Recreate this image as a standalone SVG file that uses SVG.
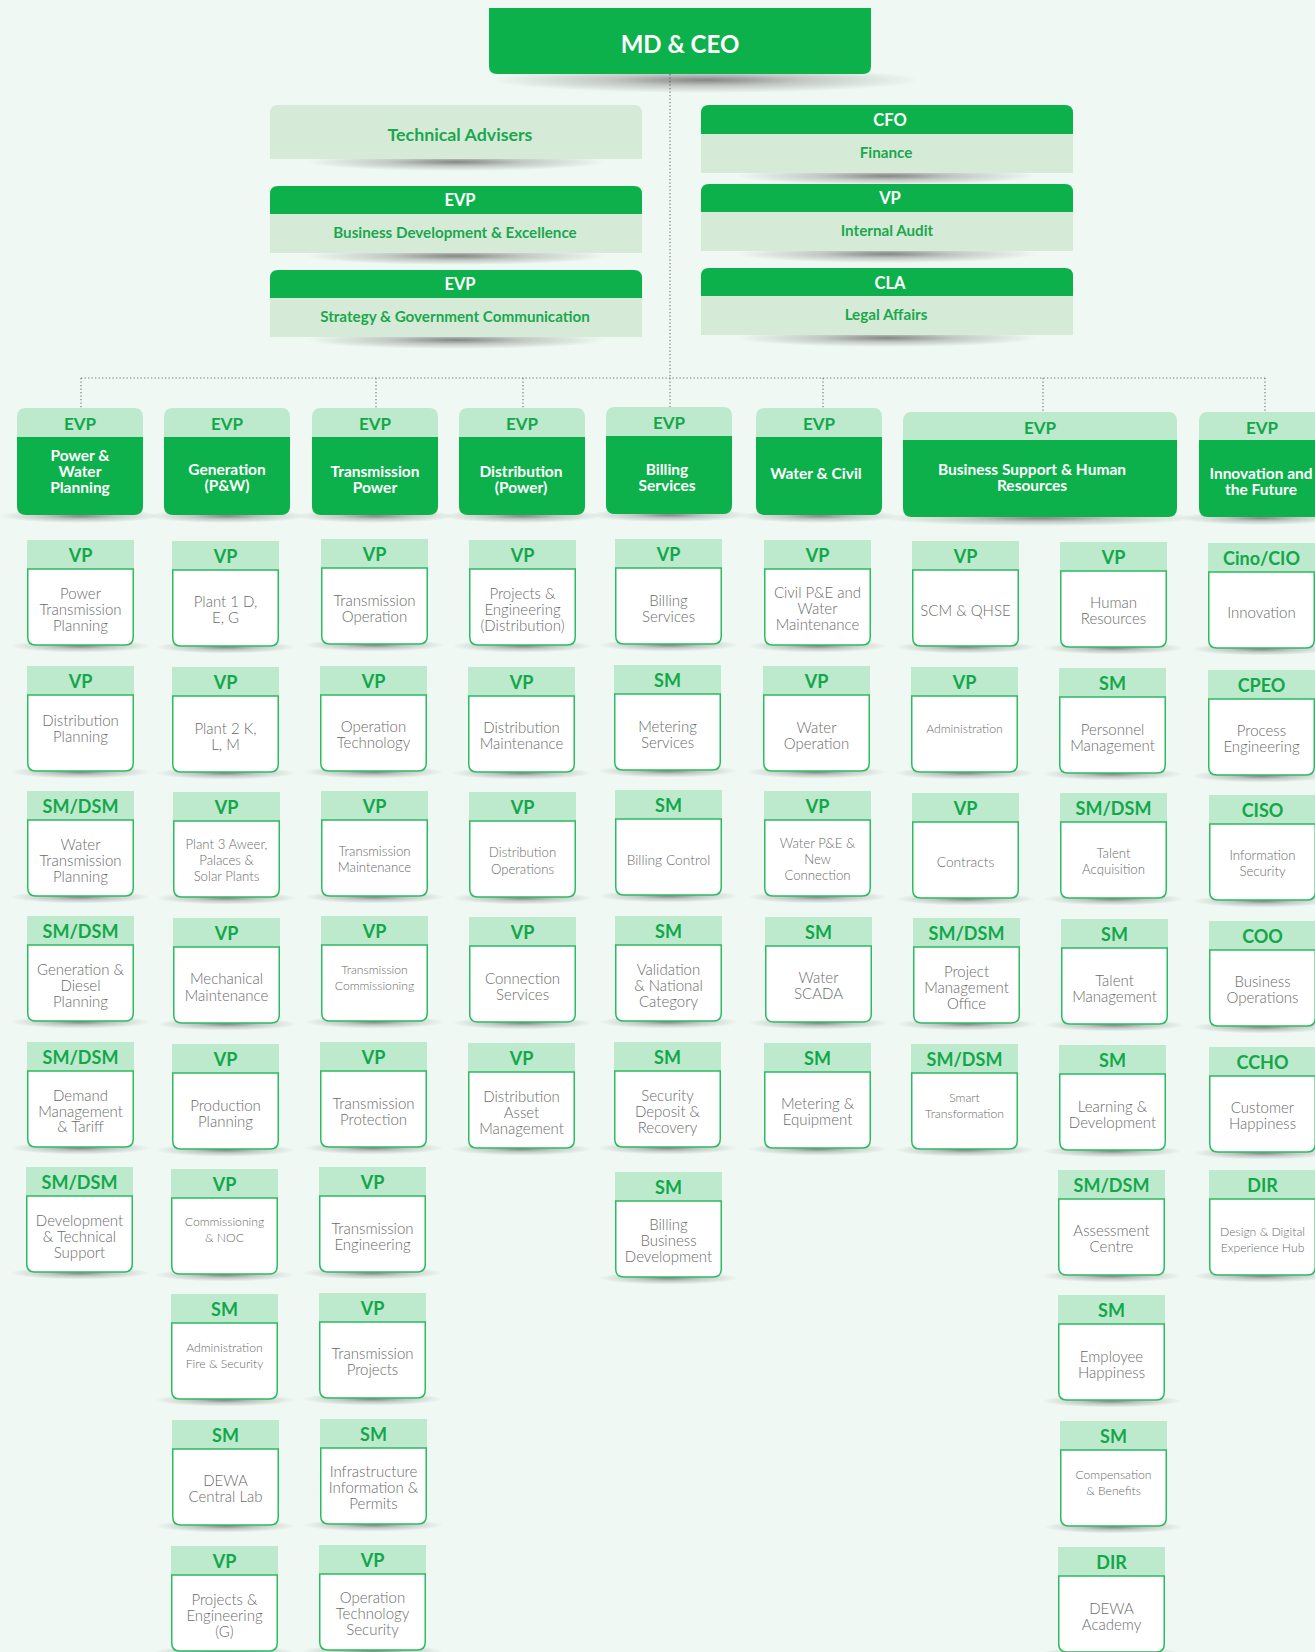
<svg xmlns="http://www.w3.org/2000/svg" width="1315" height="1652" viewBox="0 0 1315 1652">
<style>
.bg{fill:#eff8f3}
.dg{fill:#0db14b}
.lh{fill:#bde9cd}
.pg{fill:#d6ebd7}
.cb{fill:#ffffff;stroke:#2dbb62;stroke-width:1.5}
text{font-family:Lato,"Noto Sans","Liberation Sans",sans-serif;text-anchor:middle;dominant-baseline:central}
.h{font-size:18px;font-weight:700;fill:#12a84a}
.eh{font-size:17px;font-weight:700;fill:#12a84a}
.w{font-size:15.5px;font-weight:700;fill:#ffffff}
.tw{font-size:16.5px;font-weight:700;fill:#ffffff}
.tg{font-size:15.2px;font-weight:700;fill:#1aa84e}
.b{font-size:15px;font-weight:300;fill:#6b6b6b}
.m{font-size:13.2px;font-weight:300;fill:#6b6b6b}
.s{font-size:12.2px;font-weight:300;fill:#6b6b6b}
.c{font-size:13.8px;font-weight:300;fill:#6b6b6b}
.conn{fill:none;stroke:#7a7a7a;stroke-width:1.2;stroke-dasharray:1.3 2.2}
</style>
<defs>
<radialGradient id="sh" cx="50%" cy="50%" r="50%">
<stop offset="0" stop-color="#3c3c3c" stop-opacity="0.6"/>
<stop offset="0.45" stop-color="#3c3c3c" stop-opacity="0.25"/>
<stop offset="1" stop-color="#3c3c3c" stop-opacity="0"/>
</radialGradient>
<g id="cA">
<ellipse cx="53.5" cy="106" rx="70" ry="6.5" fill="url(#sh)"/>
<rect width="107" height="29" class="lh"/>
<path class="cb" d="M0.75,29 H106.25 V97 Q106.25,105 98.25,105 H8.75 Q0.75,105 0.75,97 Z"/>
</g>
<g id="ev">
<ellipse cx="63" cy="108" rx="80" ry="7" fill="url(#sh)"/>
<path class="dg" d="M0,29 H126 V98 Q126,107 117,107 H9 Q0,107 0,98 Z"/>
<path class="lh" d="M0,9 Q0,0 9,0 H117 Q126,0 126,9 V29 H0 Z"/>
</g>
</defs>
<rect class="bg" x="0" y="0" width="1315" height="1652"/>

<g id="connectors">
<path class="conn" d="M670,74 V378"/>
<path class="conn" d="M81,378 H1265"/>
<path class="conn" d="M81,378 V408 M376,378 V408 M523,378 V408 M670,378 V407 M823,378 V408 M1043,378 V412 M1265,378 V412"/>
</g>

<!-- top level -->
<g id="md-ceo">
<ellipse cx="705" cy="80" rx="215" ry="13" fill="url(#sh)"/>
<path class="dg" d="M489,8 H871 V66 Q871,74 863,74 H497 Q489,74 489,66 Z"/>
<text x="680" y="43" style="font-size:24px;font-weight:700;fill:#fff">MD &amp; CEO</text>
</g>
<g id="tech-advisers">
<ellipse cx="456" cy="162" rx="150" ry="9" fill="url(#sh)"/>
<path class="pg" d="M270,113 Q270,105 278,105 H634 Q642,105 642,113 V159 H270 Z"/>
<text x="460" y="134" style="font-size:17.8px;font-weight:700;fill:#1aa84e">Technical Advisers</text>
</g>
<g id="cfo">
<ellipse cx="887" cy="176" rx="150" ry="9" fill="url(#sh)"/>
<rect class="pg" x="701" y="130" width="372" height="43"/>
<path class="dg" d="M701,113 Q701,105 709,105 H1065 Q1073,105 1073,113 V134 H701 Z"/>
<text class="tw" x="890" y="120">CFO</text>
<text class="tg" x="886" y="152">Finance</text>
</g>
<g id="evp-bde">
<ellipse cx="456" cy="256" rx="150" ry="9" fill="url(#sh)"/>
<rect class="pg" x="270" y="210" width="372" height="43"/>
<path class="dg" d="M270,194 Q270,186 278,186 H634 Q642,186 642,194 V214 H270 Z"/>
<text class="tw" x="460" y="200">EVP</text>
<text class="tg" x="455" y="232">Business Development &amp; Excellence</text>
</g>
<g id="vp-audit">
<ellipse cx="887" cy="254" rx="150" ry="9" fill="url(#sh)"/>
<rect class="pg" x="701" y="208" width="372" height="43"/>
<path class="dg" d="M701,192 Q701,184 709,184 H1065 Q1073,184 1073,192 V212 H701 Z"/>
<text class="tw" x="890" y="198">VP</text>
<text class="tg" x="887" y="230">Internal Audit</text>
</g>
<g id="evp-sgc">
<ellipse cx="456" cy="340" rx="150" ry="9" fill="url(#sh)"/>
<rect class="pg" x="270" y="294" width="372" height="43"/>
<path class="dg" d="M270,278 Q270,270 278,270 H634 Q642,270 642,278 V298 H270 Z"/>
<text class="tw" x="460" y="284">EVP</text>
<text class="tg" x="455" y="316">Strategy &amp; Government Communication</text>
</g>
<g id="cla">
<ellipse cx="887" cy="338" rx="150" ry="9" fill="url(#sh)"/>
<rect class="pg" x="701" y="292" width="372" height="43"/>
<path class="dg" d="M701,276 Q701,268 709,268 H1065 Q1073,268 1073,276 V296 H701 Z"/>
<text class="tw" x="890" y="283">CLA</text>
<text class="tg" x="886" y="314">Legal Affairs</text>
</g>

<!-- EVP row -->
<g id="evp-pwp"><use href="#ev" x="17" y="408"/><text class="eh" x="80" y="423">EVP</text>
<text class="w" x="80" y="455">Power &amp;</text><text class="w" x="80" y="471">Water</text><text class="w" x="80" y="487">Planning</text></g>
<g id="evp-gen"><use href="#ev" x="164" y="408"/><text class="eh" x="227" y="423">EVP</text>
<text class="w" x="227" y="469">Generation</text><text class="w" x="227" y="485">(P&amp;W)</text></g>
<g id="evp-trans"><use href="#ev" x="312" y="408"/><text class="eh" x="375" y="423">EVP</text>
<text class="w" x="375" y="471">Transmission</text><text class="w" x="375" y="487">Power</text></g>
<g id="evp-dist"><use href="#ev" x="459" y="408"/><text class="eh" x="522" y="423">EVP</text>
<text class="w" x="521" y="471">Distribution</text><text class="w" x="521" y="487">(Power)</text></g>
<g id="evp-bill"><use href="#ev" x="606" y="407"/><text class="eh" x="669" y="422">EVP</text>
<text class="w" x="667" y="469">Billing</text><text class="w" x="667" y="485">Services</text></g>
<g id="evp-water"><use href="#ev" x="756" y="408"/><text class="eh" x="819" y="423">EVP</text>
<text class="w" x="816" y="473">Water &amp; Civil</text></g>
<g id="evp-bshr">
<ellipse cx="1040" cy="518" rx="160" ry="8" fill="url(#sh)"/>
<path class="dg" d="M903,440 H1177 V508 Q1177,517 1168,517 H912 Q903,517 903,508 Z"/>
<path class="lh" d="M903,421 Q903,412 912,412 H1168 Q1177,412 1177,421 V440 H903 Z"/>
<text class="eh" x="1040" y="427">EVP</text>
<text class="w" x="1032" y="469">Business Support &amp; Human</text><text class="w" x="1032" y="485">Resources</text></g>
<g id="evp-innov">
<ellipse cx="1261" cy="518" rx="80" ry="7" fill="url(#sh)"/>
<path class="dg" d="M1199,440 H1324 V508 Q1324,517 1315,517 H1208 Q1199,517 1199,508 Z"/>
<path class="lh" d="M1199,421 Q1199,412 1208,412 H1315 Q1324,412 1324,421 V440 H1199 Z"/>
<text class="eh" x="1262" y="427">EVP</text>
<text class="w" x="1261" y="473">Innovation and</text><text class="w" x="1261" y="489">the Future</text></g>

<!-- Column 1 -->
<g id="c1r1"><use href="#cA" x="27" y="540"/><text class="h" x="80.5" y="554.5">VP</text>
<text class="b" x="80.5" y="593">Power</text><text class="b" x="80.5" y="609">Transmission</text><text class="b" x="80.5" y="625">Planning</text></g>
<g id="c1r2"><use href="#cA" x="27" y="666"/><text class="h" x="80.5" y="680.5">VP</text>
<text class="b" x="80.5" y="720">Distribution</text><text class="b" x="80.5" y="736">Planning</text></g>
<g id="c1r3"><use href="#cA" x="27" y="791"/><text class="h" x="80.5" y="805.5">SM/DSM</text>
<text class="b" x="80.5" y="844">Water</text><text class="b" x="80.5" y="860">Transmission</text><text class="b" x="80.5" y="876">Planning</text></g>
<g id="c1r4"><use href="#cA" x="27" y="916"/><text class="h" x="80.5" y="930.5">SM/DSM</text>
<text class="b" x="80.5" y="969">Generation &amp;</text><text class="b" x="80.5" y="985">Diesel</text><text class="b" x="80.5" y="1001">Planning</text></g>
<g id="c1r5"><use href="#cA" x="27" y="1042"/><text class="h" x="80.5" y="1056.5">SM/DSM</text>
<text class="b" x="80.5" y="1095">Demand</text><text class="b" x="80.5" y="1111">Management</text><text class="b" x="80.5" y="1126">&amp; Tariff</text></g>
<g id="c1r6"><use href="#cA" x="26" y="1167"/><text class="h" x="79.5" y="1181.5">SM/DSM</text>
<text class="b" x="79.5" y="1220">Development</text><text class="b" x="79.5" y="1236">&amp; Technical</text><text class="b" x="79.5" y="1252">Support</text></g>

<!-- Column 2 -->
<g id="c2r1"><use href="#cA" x="172" y="541"/><text class="h" x="225.5" y="555.5">VP</text>
<text class="b" x="225.5" y="601">Plant 1 D,</text><text class="b" x="225.5" y="617">E, G</text></g>
<g id="c2r2"><use href="#cA" x="172" y="667"/><text class="h" x="225.5" y="681.5">VP</text>
<text class="b" x="225.5" y="728">Plant 2 K,</text><text class="b" x="225.5" y="744">L, M</text></g>
<g id="c2r3"><use href="#cA" x="173" y="792"/><text class="h" x="226.5" y="806.5">VP</text>
<text class="m" x="226.5" y="844">Plant 3 Aweer,</text><text class="m" x="226.5" y="860">Palaces &amp;</text><text class="m" x="226.5" y="876">Solar Plants</text></g>
<g id="c2r4"><use href="#cA" x="173" y="918"/><text class="h" x="226.5" y="932.5">VP</text>
<text class="b" x="226.5" y="978">Mechanical</text><text class="b" x="226.5" y="995">Maintenance</text></g>
<g id="c2r5"><use href="#cA" x="172" y="1044"/><text class="h" x="225.5" y="1058.5">VP</text>
<text class="b" x="225.5" y="1105">Production</text><text class="b" x="225.5" y="1121">Planning</text></g>
<g id="c2r6"><use href="#cA" x="171" y="1169"/><text class="h" x="224.5" y="1183.5">VP</text>
<text class="s" x="224.5" y="1221">Commissioning</text><text class="s" x="224.5" y="1237">&amp; NOC</text></g>
<g id="c2r7"><use href="#cA" x="171" y="1294"/><text class="h" x="224.5" y="1308.5">SM</text>
<text class="s" x="224.5" y="1347">Administration</text><text class="s" x="224.5" y="1363">Fire &amp; Security</text></g>
<g id="c2r8"><use href="#cA" x="172" y="1420"/><text class="h" x="225.5" y="1434.5">SM</text>
<text class="b" x="225.5" y="1480">DEWA</text><text class="b" x="225.5" y="1496">Central Lab</text></g>
<g id="c2r9"><use href="#cA" x="171" y="1546"/><text class="h" x="224.5" y="1560.5">VP</text>
<text class="b" x="224.5" y="1599">Projects &amp;</text><text class="b" x="224.5" y="1615">Engineering</text><text class="b" x="224.5" y="1631">(G)</text></g>

<!-- Column 3 -->
<g id="c3r1"><use href="#cA" x="321" y="539"/><text class="h" x="374.5" y="553.5">VP</text>
<text class="b" x="374.5" y="600">Transmission</text><text class="b" x="374.5" y="616">Operation</text></g>
<g id="c3r2"><use href="#cA" x="320" y="666"/><text class="h" x="373.5" y="680.5">VP</text>
<text class="b" x="373.5" y="726">Operation</text><text class="b" x="373.5" y="742">Technology</text></g>
<g id="c3r3"><use href="#cA" x="321" y="791"/><text class="h" x="374.5" y="805.5">VP</text>
<text class="m" x="374.5" y="851">Transmission</text><text class="m" x="374.5" y="867">Maintenance</text></g>
<g id="c3r4"><use href="#cA" x="321" y="916"/><text class="h" x="374.5" y="930.5">VP</text>
<text class="s" x="374.5" y="969">Transmission</text><text class="s" x="374.5" y="985">Commissioning</text></g>
<g id="c3r5"><use href="#cA" x="320" y="1042"/><text class="h" x="373.5" y="1056.5">VP</text>
<text class="b" x="373.5" y="1103">Transmission</text><text class="b" x="373.5" y="1119">Protection</text></g>
<g id="c3r6"><use href="#cA" x="319" y="1167"/><text class="h" x="372.5" y="1181.5">VP</text>
<text class="b" x="372.5" y="1228">Transmission</text><text class="b" x="372.5" y="1244">Engineering</text></g>
<g id="c3r7"><use href="#cA" x="319" y="1293"/><text class="h" x="372.5" y="1307.5">VP</text>
<text class="b" x="372.5" y="1353">Transmission</text><text class="b" x="372.5" y="1369">Projects</text></g>
<g id="c3r8"><use href="#cA" x="320" y="1419"/><text class="h" x="373.5" y="1433.5">SM</text>
<text class="b" x="373.5" y="1471">Infrastructure</text><text class="b" x="373.5" y="1487">Information &amp;</text><text class="b" x="373.5" y="1503">Permits</text></g>
<g id="c3r9"><use href="#cA" x="319" y="1545"/><text class="h" x="372.5" y="1559.5">VP</text>
<text class="b" x="372.5" y="1597">Operation</text><text class="b" x="372.5" y="1613">Technology</text><text class="b" x="372.5" y="1629">Security</text></g>

<!-- Column 4 -->
<g id="c4r1"><use href="#cA" x="469" y="540"/><text class="h" x="522.5" y="554.5">VP</text>
<text class="b" x="522.5" y="593">Projects &amp;</text><text class="b" x="522.5" y="609">Engineering</text><text class="b" x="522.5" y="625">(Distribution)</text></g>
<g id="c4r2"><use href="#cA" x="468" y="667"/><text class="h" x="521.5" y="681.5">VP</text>
<text class="b" x="521.5" y="727">Distribution</text><text class="b" x="521.5" y="743">Maintenance</text></g>
<g id="c4r3"><use href="#cA" x="469" y="792"/><text class="h" x="522.5" y="806.5">VP</text>
<text class="m" x="522.5" y="852">Distribution</text><text class="m" x="522.5" y="869">Operations</text></g>
<g id="c4r4"><use href="#cA" x="469" y="917"/><text class="h" x="522.5" y="931.5">VP</text>
<text class="b" x="522.5" y="978">Connection</text><text class="b" x="522.5" y="994">Services</text></g>
<g id="c4r5"><use href="#cA" x="468" y="1043"/><text class="h" x="521.5" y="1057.5">VP</text>
<text class="b" x="521.5" y="1096">Distribution</text><text class="b" x="521.5" y="1112">Asset</text><text class="b" x="521.5" y="1128">Management</text></g>

<!-- Column 5 -->
<g id="c5r1"><use href="#cA" x="615" y="539"/><text class="h" x="668.5" y="553.5">VP</text>
<text class="b" x="668.5" y="600">Billing</text><text class="b" x="668.5" y="616">Services</text></g>
<g id="c5r2"><use href="#cA" x="614" y="665"/><text class="h" x="667.5" y="679.5">SM</text>
<text class="b" x="667.5" y="726">Metering</text><text class="b" x="667.5" y="742">Services</text></g>
<g id="c5r3"><use href="#cA" x="615" y="790"/><text class="h" x="668.5" y="804.5">SM</text>
<text class="c" x="668.5" y="859">Billing Control</text></g>
<g id="c5r4"><use href="#cA" x="615" y="916"/><text class="h" x="668.5" y="930.5">SM</text>
<text class="b" x="668.5" y="969">Validation</text><text class="b" x="668.5" y="985">&amp; National</text><text class="b" x="668.5" y="1001">Category</text></g>
<g id="c5r5"><use href="#cA" x="614" y="1042"/><text class="h" x="667.5" y="1056.5">SM</text>
<text class="b" x="667.5" y="1095">Security</text><text class="b" x="667.5" y="1111">Deposit &amp;</text><text class="b" x="667.5" y="1127">Recovery</text></g>
<g id="c5r6"><use href="#cA" x="615" y="1172"/><text class="h" x="668.5" y="1186.5">SM</text>
<text class="b" x="668.5" y="1224">Billing</text><text class="b" x="668.5" y="1240">Business</text><text class="b" x="668.5" y="1256">Development</text></g>

<!-- Column 6 -->
<g id="c6r1"><use href="#cA" x="764" y="540"/><text class="h" x="817.5" y="554.5">VP</text>
<text class="b" x="817.5" y="592">Civil P&amp;E and</text><text class="b" x="817.5" y="608">Water</text><text class="b" x="817.5" y="624">Maintenance</text></g>
<g id="c6r2"><use href="#cA" x="763" y="666"/><text class="h" x="816.5" y="680.5">VP</text>
<text class="b" x="816.5" y="727">Water</text><text class="b" x="816.5" y="743">Operation</text></g>
<g id="c6r3"><use href="#cA" x="764" y="791"/><text class="h" x="817.5" y="805.5">VP</text>
<text class="m" x="817.5" y="843">Water P&amp;E &amp;</text><text class="m" x="817.5" y="859">New</text><text class="m" x="817.5" y="875">Connection</text></g>
<g id="c6r4"><use href="#cA" x="765" y="917"/><text class="h" x="818.5" y="931.5">SM</text>
<text class="b" x="818.5" y="977">Water</text><text class="b" x="818.5" y="993">SCADA</text></g>
<g id="c6r5"><use href="#cA" x="764" y="1043"/><text class="h" x="817.5" y="1057.5">SM</text>
<text class="b" x="817.5" y="1103">Metering &amp;</text><text class="b" x="817.5" y="1119">Equipment</text></g>

<!-- Column 7 -->
<g id="c7r1"><use href="#cA" x="912" y="541"/><text class="h" x="965.5" y="555.5">VP</text>
<text class="b" x="965.5" y="610">SCM &amp; QHSE</text></g>
<g id="c7r2"><use href="#cA" x="911" y="667"/><text class="h" x="964.5" y="681.5">VP</text>
<text class="s" x="964.5" y="728">Administration</text></g>
<g id="c7r3"><use href="#cA" x="912" y="793"/><text class="h" x="965.5" y="807.5">VP</text>
<text class="c" x="965.5" y="861">Contracts</text></g>
<g id="c7r4"><use href="#cA" x="913" y="918"/><text class="h" x="966.5" y="932.5">SM/DSM</text>
<text class="b" x="966.5" y="971">Project</text><text class="b" x="966.5" y="987">Management</text><text class="b" x="966.5" y="1003">Office</text></g>
<g id="c7r5"><use href="#cA" x="911" y="1044"/><text class="h" x="964.5" y="1058.5">SM/DSM</text>
<text class="s" x="964.5" y="1097">Smart</text><text class="s" x="964.5" y="1113">Transformation</text></g>

<!-- Column 8 -->
<g id="c8r1"><use href="#cA" x="1060" y="542"/><text class="h" x="1113.5" y="556.5">VP</text>
<text class="b" x="1113.5" y="602">Human</text><text class="b" x="1113.5" y="618">Resources</text></g>
<g id="c8r2"><use href="#cA" x="1059" y="668"/><text class="h" x="1112.5" y="682.5">SM</text>
<text class="b" x="1112.5" y="729">Personnel</text><text class="b" x="1112.5" y="745">Management</text></g>
<g id="c8r3"><use href="#cA" x="1060" y="793"/><text class="h" x="1113.5" y="807.5">SM/DSM</text>
<text class="m" x="1113.5" y="853">Talent</text><text class="m" x="1113.5" y="869">Acquisition</text></g>
<g id="c8r4"><use href="#cA" x="1061" y="919"/><text class="h" x="1114.5" y="933.5">SM</text>
<text class="b" x="1114.5" y="980">Talent</text><text class="b" x="1114.5" y="996">Management</text></g>
<g id="c8r5"><use href="#cA" x="1059" y="1045"/><text class="h" x="1112.5" y="1059.5">SM</text>
<text class="b" x="1112.5" y="1106">Learning &amp;</text><text class="b" x="1112.5" y="1122">Development</text></g>
<g id="c8r6"><use href="#cA" x="1058" y="1170"/><text class="h" x="1111.5" y="1184.5">SM/DSM</text>
<text class="b" x="1111.5" y="1230">Assessment</text><text class="b" x="1111.5" y="1246">Centre</text></g>
<g id="c8r7"><use href="#cA" x="1058" y="1295"/><text class="h" x="1111.5" y="1309.5">SM</text>
<text class="b" x="1111.5" y="1356">Employee</text><text class="b" x="1111.5" y="1372">Happiness</text></g>
<g id="c8r8"><use href="#cA" x="1060" y="1421"/><text class="h" x="1113.5" y="1435.5">SM</text>
<text class="s" x="1113.5" y="1474">Compensation</text><text class="s" x="1113.5" y="1490">&amp; Benefits</text></g>
<g id="c8r9"><use href="#cA" x="1058" y="1547"/><text class="h" x="1111.5" y="1561.5">DIR</text>
<text class="b" x="1111.5" y="1608">DEWA</text><text class="b" x="1111.5" y="1624">Academy</text></g>

<!-- Column 9 -->
<g id="c9r1"><use href="#cA" x="1208" y="543"/><text class="h" x="1261.5" y="557.5">Cino/CIO</text>
<text class="b" x="1261.5" y="612">Innovation</text></g>
<g id="c9r2"><use href="#cA" x="1208" y="670"/><text class="h" x="1261.5" y="684.5">CPEO</text>
<text class="b" x="1261.5" y="730">Process</text><text class="b" x="1261.5" y="746">Engineering</text></g>
<g id="c9r3"><use href="#cA" x="1209" y="795"/><text class="h" x="1262.5" y="809.5">CISO</text>
<text class="m" x="1262.5" y="855">Information</text><text class="m" x="1262.5" y="871">Security</text></g>
<g id="c9r4"><use href="#cA" x="1209" y="921"/><text class="h" x="1262.5" y="935.5">COO</text>
<text class="b" x="1262.5" y="981">Business</text><text class="b" x="1262.5" y="997">Operations</text></g>
<g id="c9r5"><use href="#cA" x="1209" y="1047"/><text class="h" x="1262.5" y="1061.5">CCHO</text>
<text class="b" x="1262.5" y="1107">Customer</text><text class="b" x="1262.5" y="1123">Happiness</text></g>
<g id="c9r6"><use href="#cA" x="1209" y="1170"/><text class="h" x="1262.5" y="1184.5">DIR</text>
<text class="s" x="1262.5" y="1231">Design &amp; Digital</text><text class="s" x="1262.5" y="1247">Experience Hub</text></g>
</svg>
